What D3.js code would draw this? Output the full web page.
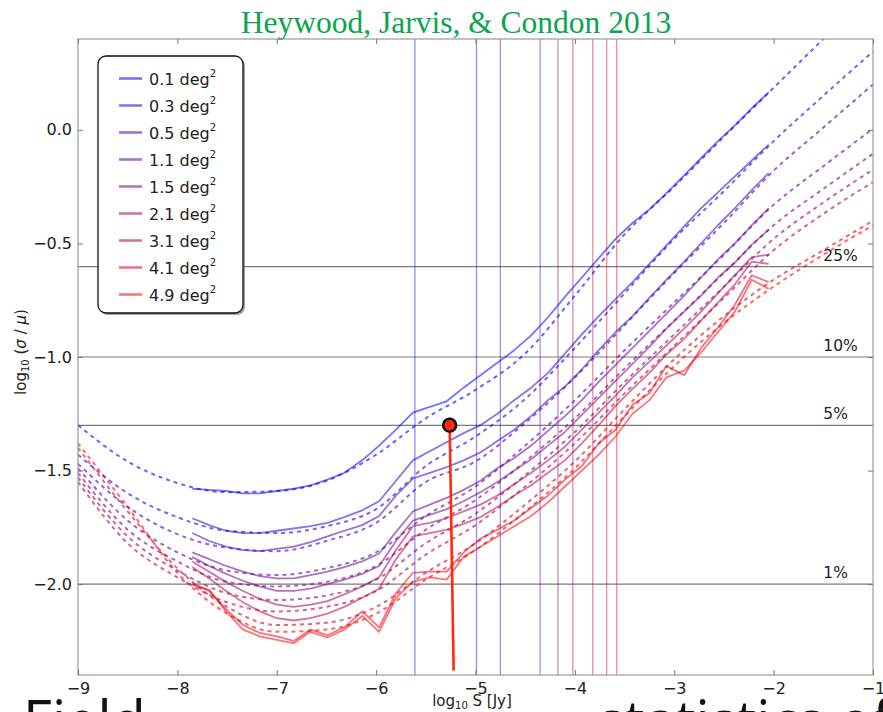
<!DOCTYPE html>
<html>
<head>
<meta charset="utf-8">
<script src="https://cdn.jsdelivr.net/npm/d3@7"></script>
<style>
  body { margin: 0; background: #fff; }
  svg { display: block; }
</style>
</head>
<body>
<svg id="chart" width="883" height="712"></svg>
<script>
// Survey areas (deg^2), faint-to-bright flux bins and measured scatter log10(sigma/mu)
const areaLabels = ["0.1", "0.3", "0.5", "1.1", "1.5", "2.1", "3.1", "4.1", "4.9"];

const fluxBins = [-7.85, -7.68, -7.51, -7.34, -7.17, -7.00, -6.83, -6.66, -6.49, -6.32,
                  -6.14, -5.97, -5.80, -5.63, -5.46, -5.29, -5.12, -4.95, -4.78, -4.61,
                  -4.44, -4.27, -4.10, -3.93, -3.76, -3.59, -3.42, -3.25, -3.08, -2.90,
                  -2.73, -2.56, -2.39, -2.22, -2.05];

const sigma01 = [-1.58, -1.585, -1.59, -1.60, -1.60, -1.59, -1.58, -1.565, -1.54, -1.51,
                 -1.455, -1.39, -1.32, -1.245, -1.22, -1.195, -1.135, -1.08, -1.025, -0.97,
                 -0.905, -0.825, -0.735, -0.65, -0.565, -0.48, -0.41, -0.35, -0.28, -0.20,
                 -0.125, -0.05, 0.02, 0.095, 0.165];
const sigma03 = [-1.71, -1.74, -1.765, -1.775, -1.775, -1.765, -1.755, -1.745, -1.73, -1.705,
                 -1.675, -1.635, -1.545, -1.455, -1.415, -1.375, -1.335, -1.30, -1.25, -1.19,
                 -1.135, -1.07, -0.985, -0.90, -0.82, -0.745, -0.67, -0.59, -0.51, -0.425,
                 -0.345, -0.275, -0.205, -0.135, -0.065];
const sigma05 = [-1.775, -1.81, -1.835, -1.85, -1.855, -1.845, -1.835, -1.815, -1.79, -1.765,
                 -1.74, -1.70, -1.61, -1.535, -1.51, -1.485, -1.455, -1.42, -1.37, -1.32,
                 -1.26, -1.19, -1.13, -1.055, -0.97, -0.89, -0.82, -0.74, -0.66, -0.58,
                 -0.50, -0.42, -0.345, -0.265, -0.19];
const sigma11 = [-1.86, -1.89, -1.92, -1.945, -1.965, -1.975, -1.975, -1.96, -1.945, -1.925,
                 -1.90, -1.865, -1.77, -1.68, -1.65, -1.62, -1.585, -1.545, -1.49, -1.445,
                 -1.39, -1.325, -1.26, -1.19, -1.11, -1.035, -0.96, -0.885, -0.81, -0.73,
                 -0.65, -0.57, -0.50, -0.42, -0.345];
const sigma15 = [-1.88, -1.92, -1.955, -1.985, -2.01, -2.03, -2.03, -2.02, -2.00, -1.98,
                 -1.955, -1.92, -1.81, -1.72, -1.695, -1.67, -1.635, -1.595, -1.55, -1.50,
                 -1.45, -1.39, -1.33, -1.255, -1.18, -1.105, -1.03, -0.955, -0.875, -0.80,
                 -0.73, -0.65, -0.585, -0.505, -0.44];
const sigma21 = [-1.90, -1.945, -1.99, -2.03, -2.065, -2.09, -2.10, -2.09, -2.075, -2.045,
                 -2.01, -1.97, -1.85, -1.745, -1.73, -1.71, -1.68, -1.65, -1.61, -1.56,
                 -1.51, -1.455, -1.395, -1.32, -1.245, -1.17, -1.09, -1.02, -0.95, -0.875,
                 -0.80, -0.72, -0.64, -0.56, -0.55];
const sigma31 = [-1.925, -1.975, -2.03, -2.08, -2.12, -2.15, -2.16, -2.15, -2.13, -2.10,
                 -2.06, -2.02, -1.89, -1.79, -1.775, -1.76, -1.735, -1.705, -1.66, -1.61,
                 -1.565, -1.51, -1.455, -1.38, -1.30, -1.215, -1.14, -1.07, -0.99, -0.92,
                 -0.84, -0.76, -0.68, -0.58, -0.59];
const sigma41 = [-2.00, -2.03, -2.11, -2.18, -2.215, -2.23, -2.25, -2.20, -2.225, -2.19,
                 -2.12, -2.19, -2.04, -1.95, -1.945, -1.945, -1.86, -1.80, -1.76, -1.72,
                 -1.665, -1.61, -1.54, -1.48, -1.38, -1.32, -1.21, -1.16, -1.04, -1.08,
                 -0.96, -0.87, -0.77, -0.64, -0.67];
const sigma49 = [-2.00, -2.025, -2.12, -2.20, -2.23, -2.245, -2.26, -2.21, -2.235, -2.20,
                 -2.14, -2.21, -2.06, -1.99, -1.97, -1.98, -1.88, -1.835, -1.79, -1.745,
                 -1.70, -1.64, -1.57, -1.50, -1.43, -1.35, -1.25, -1.19, -1.09, -1.06,
                 -0.98, -0.89, -0.80, -0.66, -0.70];

// Model prediction for each area
const modelFlux = [-9, -8.5, -8, -7.5, -7, -6.5, -6, -5.5, -5, -4.5, -4, -3.5, -3, -2.5, -2, -1.5, -1];
const model01 = [-1.30, -1.46, -1.555, -1.595, -1.59, -1.545, -1.43, -1.27, -1.145, -0.985, -0.73, -0.46, -0.25, -0.03, 0.185, 0.40, 0.61];
const model03 = [-1.43, -1.60, -1.705, -1.765, -1.775, -1.745, -1.67, -1.48, -1.35, -1.185, -0.96, -0.72, -0.48, -0.27, -0.05, 0.15, 0.345];
const model05 = [-1.47, -1.66, -1.78, -1.84, -1.855, -1.81, -1.73, -1.55, -1.46, -1.29, -1.09, -0.86, -0.63, -0.41, -0.18, 0.01, 0.20];
const model11 = [-1.49, -1.72, -1.86, -1.94, -1.96, -1.93, -1.86, -1.70, -1.57, -1.39, -1.19, -0.97, -0.76, -0.55, -0.33, -0.16, 0.005];
const model15 = [-1.51, -1.76, -1.90, -1.99, -2.01, -1.99, -1.92, -1.76, -1.63, -1.46, -1.27, -1.05, -0.84, -0.63, -0.42, -0.26, -0.105];
const model21 = [-1.53, -1.79, -1.94, -2.04, -2.07, -2.05, -1.98, -1.82, -1.69, -1.52, -1.33, -1.11, -0.90, -0.69, -0.48, -0.32, -0.175];
const model31 = [-1.55, -1.82, -1.97, -2.08, -2.12, -2.10, -2.03, -1.87, -1.74, -1.57, -1.38, -1.16, -0.95, -0.74, -0.53, -0.37, -0.23];
const model41 = [-1.40, -1.68, -1.93, -2.10, -2.18, -2.17, -2.10, -1.95, -1.82, -1.65, -1.46, -1.23, -1.01, -0.82, -0.66, -0.53, -0.40];
const model49 = [-1.38, -1.66, -1.95, -2.13, -2.21, -2.20, -2.13, -1.98, -1.85, -1.68, -1.49, -1.26, -1.04, -0.85, -0.69, -0.55, -0.42];

// Flux limit for each area
const fluxLimits = [-5.61, -4.99, -4.75, -4.35, -4.17, -4.02, -3.82, -3.68, -3.58];

// Fractional-error reference levels
const levelFractions = [0.25, 0.10, 0.05, 0.01];
const levelLabels = ["25%", "10%", "5%", "1%"];

const xTicks = [-9, -8, -7, -6, -5, -4, -3, -2, -1];
const yTicks = [0.0, -0.5, -1.0, -1.5, -2.0];

// Highlighted point and its drop line
const markerPoint = [-5.26, -1.30];
const markerFoot = [-5.22, -2.38];

const measuredSeries = [sigma01, sigma03, sigma05, sigma11, sigma15, sigma21, sigma31, sigma41, sigma49];
const modelSeries = [model01, model03, model05, model11, model15, model21, model31, model41, model49];

// ---------------------------------------------------------------
const svg = d3.select("#chart");
const plotLeft = 78, plotRight = 873, plotTop = 39, plotBottom = 675;
const x = d3.scaleLinear().domain([-9, -1]).range([plotLeft, plotRight]);
const y = d3.scaleLinear().domain([-2.4, 0.4]).range([plotBottom, plotTop]);

const nAreas = areaLabels.length;
const colour = i => {
  const t = i / (nAreas - 1);
  return d3.rgb(Math.round(255 * t), 0, Math.round(255 * (1 - t))).toString();
};

svg.append("defs").append("clipPath").attr("id", "plotClip")
  .append("rect").attr("x", plotLeft).attr("y", plotTop)
  .attr("width", plotRight - plotLeft).attr("height", plotBottom - plotTop);

// Title
svg.append("text")
  .attr("x", 456).attr("y", 33)
  .attr("text-anchor", "middle")
  .attr("font-family", "Liberation Serif, Times New Roman, serif")
  .attr("font-size", 31.5)
  .attr("fill", "#0aa54e")
  .text("Heywood, Jarvis, & Condon 2013");

const plot = svg.append("g").attr("clip-path", "url(#plotClip)");

// Reference levels
plot.append("g").selectAll("line").data(levelFractions).join("line")
  .attr("x1", plotLeft).attr("x2", plotRight)
  .attr("y1", d => y(Math.log10(d))).attr("y2", d => y(Math.log10(d)))
  .attr("stroke", "#7a7a7a").attr("stroke-width", 1.2);

// Flux limits
plot.append("g").selectAll("line").data(fluxLimits).join("line")
  .attr("x1", d => x(d)).attr("x2", d => x(d))
  .attr("y1", plotTop).attr("y2", plotBottom)
  .attr("stroke", (d, i) => colour(i))
  .attr("stroke-opacity", 0.45)
  .attr("stroke-width", 1.3);

const modelLine = d3.line().x((d, i) => x(modelFlux[i])).y(d => y(d)).curve(d3.curveMonotoneX);
const dataLine = d3.line().x((d, i) => x(fluxBins[i])).y(d => y(d));

// Model curves (dashed)
plot.append("g").selectAll("path").data(modelSeries).join("path")
  .attr("d", d => modelLine(d))
  .attr("fill", "none")
  .attr("stroke", (d, i) => colour(i))
  .attr("stroke-opacity", 0.6)
  .attr("stroke-width", 2)
  .attr("stroke-dasharray", "4,4");

// Measured curves (solid)
plot.append("g").selectAll("path").data(measuredSeries).join("path")
  .attr("d", d => dataLine(d))
  .attr("fill", "none")
  .attr("stroke", (d, i) => colour(i))
  .attr("stroke-opacity", 0.55)
  .attr("stroke-width", 1.8)
  .attr("stroke-linejoin", "round");

// Level labels
svg.append("g").selectAll("text").data(levelFractions).join("text")
  .attr("x", x(-1.5)).attr("y", d => y(Math.log10(d)) - 6)
  .attr("font-family", "DejaVu Sans, sans-serif")
  .attr("font-size", 15.5)
  .attr("fill", "#222")
  .text((d, i) => levelLabels[i]);

// Frame
svg.append("rect")
  .attr("x", plotLeft).attr("y", plotTop)
  .attr("width", plotRight - plotLeft).attr("height", plotBottom - plotTop)
  .attr("fill", "none").attr("stroke", "#9a9a9a").attr("stroke-width", 1.2);

// Axes with inward ticks on all sides
const styleAxis = g => {
  g.select(".domain").remove();
  g.selectAll(".tick line").attr("stroke", "#777");
  g.selectAll(".tick text").attr("fill", "#222")
    .attr("font-family", "DejaVu Sans, sans-serif").attr("font-size", 16);
};
svg.append("g").attr("transform", `translate(0,${plotBottom})`)
  .call(d3.axisBottom(x).tickValues(xTicks).tickFormat(d3.format(".0f")).tickSize(-5).tickPadding(8))
  .call(styleAxis);
svg.append("g").attr("transform", `translate(0,${plotTop})`)
  .call(d3.axisTop(x).tickValues(xTicks).tickFormat("").tickSize(-5))
  .call(styleAxis);
svg.append("g").attr("transform", `translate(${plotLeft},0)`)
  .call(d3.axisLeft(y).tickValues(yTicks).tickFormat(d3.format(".1f")).tickSize(-5).tickPadding(6))
  .call(styleAxis);
svg.append("g").attr("transform", `translate(${plotRight},0)`)
  .call(d3.axisRight(y).tickValues(yTicks).tickFormat("").tickSize(-5))
  .call(styleAxis);

// Axis titles
const xt = svg.append("text")
  .attr("x", 472).attr("y", 706)
  .attr("text-anchor", "middle")
  .attr("font-family", "DejaVu Sans, sans-serif")
  .attr("font-size", 15).attr("fill", "#222");
xt.append("tspan").text("log");
xt.append("tspan").attr("font-size", 10).attr("dy", 3).text("10");
xt.append("tspan").attr("dy", -3).text(" S [Jy]");

const yt = svg.append("text")
  .attr("transform", "translate(26,352) rotate(-90)")
  .attr("text-anchor", "middle")
  .attr("font-family", "DejaVu Sans, sans-serif")
  .attr("font-size", 15).attr("fill", "#222");
yt.append("tspan").text("log");
yt.append("tspan").attr("font-size", 10).attr("dy", 3).text("10");
yt.append("tspan").attr("dy", -3).text(" (");
yt.append("tspan").attr("font-style", "italic").text("σ");
yt.append("tspan").text(" / ");
yt.append("tspan").attr("font-style", "italic").text("μ");
yt.append("tspan").text(")");

// Highlight marker
svg.append("line")
  .attr("x1", x(markerPoint[0])).attr("y1", y(markerPoint[1]))
  .attr("x2", x(markerFoot[0])).attr("y2", y(markerFoot[1]))
  .attr("stroke", "#ff2a10").attr("stroke-width", 2.6);
svg.append("circle")
  .attr("cx", x(markerPoint[0])).attr("cy", y(markerPoint[1])).attr("r", 6.5)
  .attr("fill", "#ff2a10").attr("stroke", "#000").attr("stroke-width", 2.4);

// Legend
const lg = svg.append("g");
lg.append("rect").attr("x", 100).attr("y", 58).attr("width", 145).attr("height", 257)
  .attr("rx", 8).attr("fill", "#666").attr("opacity", 0.6);
lg.append("rect").attr("x", 98).attr("y", 56).attr("width", 145).attr("height", 257)
  .attr("rx", 8).attr("fill", "#fff").attr("stroke", "#111").attr("stroke-width", 1.3);
const items = lg.selectAll("g.item").data(areaLabels).join("g")
  .attr("class", "item")
  .attr("transform", (d, i) => `translate(0,${78.5 + i * 27})`);
items.append("line").attr("x1", 119).attr("x2", 142).attr("y1", 0).attr("y2", 0)
  .attr("stroke", (d, i) => colour(i)).attr("stroke-opacity", 0.55).attr("stroke-width", 2.6);
const lt = items.append("text").attr("x", 149).attr("y", 6)
  .attr("font-family", "DejaVu Sans, sans-serif").attr("font-size", 16).attr("fill", "#222");
lt.append("tspan").text(d => d + " deg");
lt.append("tspan").attr("font-size", 10).attr("dy", -8).text("2");

// Slide caption running below the figure (only its upper edge fits on the page)
svg.append("clipPath").attr("id", "captionClip")
  .append("rect").attr("x", 0).attr("y", 698).attr("width", 883).attr("height", 14);
const cap = svg.append("g").attr("clip-path", "url(#captionClip)")
  .attr("font-family", "Open Sans, sans-serif")
  .attr("font-size", 56).attr("fill", "#111");
cap.append("text").attr("x", 23).attr("y", 741).text("Field");
cap.append("text").attr("x", 891).attr("y", 741).attr("text-anchor", "end").text("statistics of");
</script>
</body>
</html>
